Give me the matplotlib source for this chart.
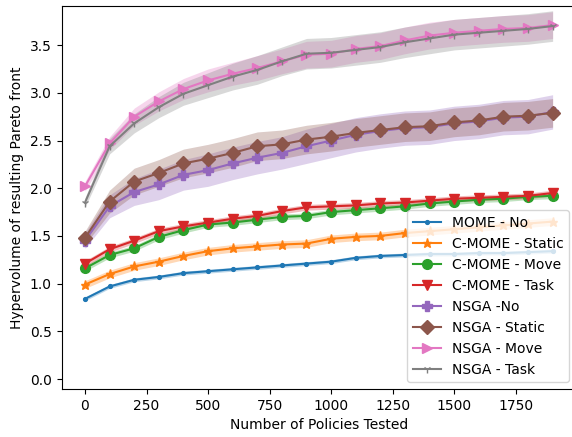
import numpy as np
import matplotlib
matplotlib.use('Agg')
import matplotlib.pyplot as plt

# policies tested (x axis)
policies = list(range(0, 2000, 100))

# mean hypervolume per method
mome_no = [0.84, 0.97, 1.04, 1.07, 1.11, 1.13, 1.15, 1.17, 1.19, 1.21,
           1.23, 1.27, 1.29, 1.30, 1.31, 1.31, 1.32, 1.32, 1.33, 1.34]
cmome_static = [0.99, 1.10, 1.18, 1.23, 1.29, 1.34, 1.37, 1.39, 1.41, 1.42,
                1.47, 1.49, 1.50, 1.53, 1.55, 1.57, 1.59, 1.61, 1.63, 1.65]
cmome_move = [1.16, 1.30, 1.37, 1.49, 1.56, 1.62, 1.64, 1.67, 1.70, 1.71,
              1.75, 1.77, 1.79, 1.81, 1.84, 1.86, 1.88, 1.89, 1.91, 1.92]
cmome_task = [1.21, 1.36, 1.45, 1.55, 1.60, 1.64, 1.68, 1.71, 1.76, 1.80,
              1.81, 1.82, 1.84, 1.85, 1.87, 1.89, 1.90, 1.91, 1.92, 1.95]
nsga_no = [1.45, 1.81, 1.96, 2.04, 2.14, 2.19, 2.26, 2.32, 2.37, 2.44,
           2.50, 2.56, 2.60, 2.63, 2.64, 2.68, 2.70, 2.74, 2.75, 2.80]
nsga_static = [1.48, 1.86, 2.07, 2.16, 2.26, 2.31, 2.37, 2.44, 2.46, 2.51,
               2.54, 2.58, 2.61, 2.64, 2.65, 2.69, 2.71, 2.75, 2.76, 2.79]
nsga_move = [2.02, 2.47, 2.75, 2.91, 3.04, 3.13, 3.20, 3.26, 3.33, 3.40,
             3.41, 3.46, 3.49, 3.55, 3.60, 3.63, 3.65, 3.67, 3.68, 3.71]
nsga_task = [1.85, 2.44, 2.68, 2.85, 2.99, 3.08, 3.17, 3.24, 3.33, 3.41,
             3.42, 3.45, 3.48, 3.53, 3.57, 3.61, 3.63, 3.65, 3.67, 3.70]

# half-width of the shaded spread
spread_mome_no = [0.02] * 20
spread_cmome_static = [0.04] * 20
spread_cmome_move = [0.03] * 20
spread_cmome_task = [0.03] * 20
spread_nsga_no = [0.08, 0.12, 0.14, 0.16, 0.16, 0.17, 0.17, 0.17, 0.17, 0.18,
                  0.18, 0.18, 0.18, 0.18, 0.18, 0.18, 0.18, 0.18, 0.18, 0.18]
spread_nsga_static = [0.07, 0.12, 0.14, 0.14, 0.15, 0.15, 0.15, 0.15, 0.15, 0.15,
                      0.15, 0.15, 0.15, 0.15, 0.15, 0.15, 0.15, 0.15, 0.15, 0.15]
spread_nsga_move = [0.05, 0.07, 0.09, 0.10, 0.11, 0.12, 0.12, 0.13, 0.13, 0.14,
                    0.14, 0.14, 0.14, 0.14, 0.14, 0.14, 0.14, 0.14, 0.14, 0.14]
spread_nsga_task = [0.05, 0.08, 0.10, 0.11, 0.12, 0.13, 0.14, 0.15, 0.15, 0.16,
                    0.16, 0.16, 0.16, 0.16, 0.16, 0.16, 0.16, 0.16, 0.16, 0.16]

labels = ['MOME - No', 'C-MOME - Static', 'C-MOME - Move', 'C-MOME - Task',
          'NSGA -No', 'NSGA - Static', 'NSGA - Move', 'NSGA - Task']
means = [mome_no, cmome_static, cmome_move, cmome_task,
         nsga_no, nsga_static, nsga_move, nsga_task]
spreads = [spread_mome_no, spread_cmome_static, spread_cmome_move, spread_cmome_task,
           spread_nsga_no, spread_nsga_static, spread_nsga_move, spread_nsga_task]
markers = ['.', '*', 'o', 'v', 'P', 'D', '>', '1']
msizes = [5.5, 6.5, 7, 7, 6.5, 7, 7, 6]
colors = ['C0', 'C1', 'C2', 'C3', 'C4', 'C5', 'C6', 'C7']

fig = plt.figure(figsize=(5.72, 4.37), dpi=100)
ax = fig.add_axes([0.1077, 0.1098, 0.8993, 0.8764])

x = np.array(policies)
for lab, m, s, mk, ms, c in zip(labels, means, spreads, markers, msizes, colors):
    m = np.array(m)
    s = np.array(s)
    ax.plot(x, m, marker=mk, markersize=ms, color=c, label=lab)
    ax.fill_between(x, m - s, m + s, color=c, alpha=0.3, linewidth=0)

ax.set_xlim(-95, 1995)
ax.set_ylim(-0.105, 3.91)
ax.set_xticks([0, 250, 500, 750, 1000, 1250, 1500, 1750])
ax.set_yticks([0.0, 0.5, 1.0, 1.5, 2.0, 2.5, 3.0, 3.5])
ax.spines['right'].set_visible(False)  # sits past the cropped edge
ax.set_xlabel('Number of Policies Tested')
ax.set_ylabel('Hypervolume of resulting Pareto front')
ax.legend(loc='lower right')

fig.savefig('out.png', dpi=100)
